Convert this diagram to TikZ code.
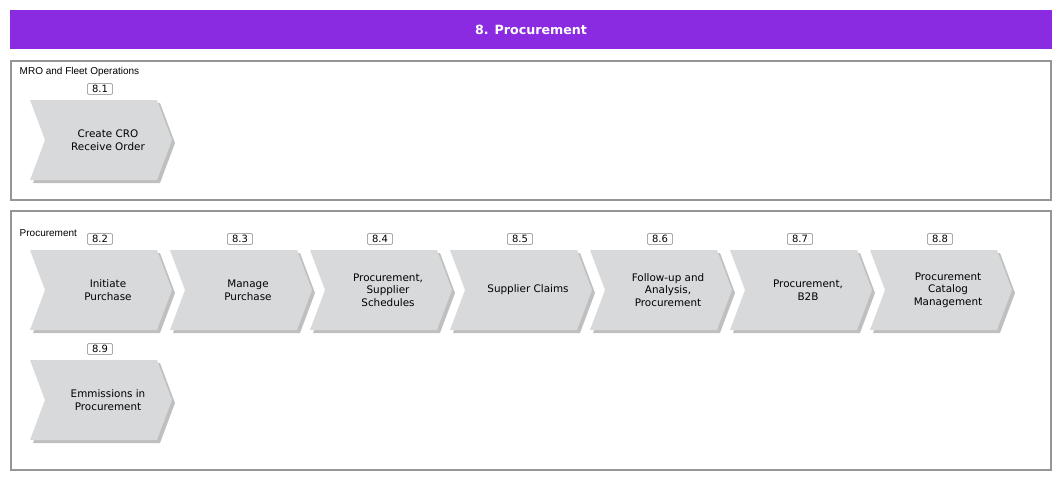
\documentclass[tikz,border=0pt]{standalone}
\usepackage{fontspec}
\setmainfont{DejaVu Sans}
\newfontfamily\arialfont{Liberation Sans}
\usetikzlibrary{positioning}
\definecolor{prpurple}{RGB}{138,43,226}
\definecolor{prgray}{RGB}{216,217,219}
\definecolor{prframe}{RGB}{150,150,150}
\tikzset{
  lane/.style={draw=prframe, line width=1.2pt},
  chev/.style={fill=prgray},
  chevshadow/.style={fill=black!25},
  steptext/.style={align=center, font=\fontsize{7.8}{9.5}\selectfont},
  stepnum/.style={draw=black!50, rounded corners=1pt, fill=white, inner sep=1.2pt, minimum width=19pt, font=\fontsize{7.5}{8}\selectfont},
  lanetitle/.style={anchor=west, font=\arialfont\fontsize{7.5}{8}\selectfont}
}
% chevron at top-left (#1,#2), name #3, number #4, text #5
\newcommand{\prstep}[5]{%
  \fill[chevshadow] (#1+3,#2+3) -- ++(127,0) -- ++(15,40) -- ++(-15,40) -- ++(-127,0) -- ++(15,-40) -- cycle;
  \fill[chev] (#1,#2) -- ++(127,0) -- ++(15,40) -- ++(-15,40) -- ++(-127,0) -- ++(15,-40) -- cycle;
  \node[steptext] (#3) at (#1+78,#2+40) {#5};
  \node[stepnum] (#3n) at (#1+70,#2-11) {#4};
}
\begin{document}
\begin{tikzpicture}[x=0.75pt,y=-0.75pt]
\useasboundingbox (0,0) rectangle (1060,480);
% header
\fill[prpurple] (10,10) rectangle (1052,49);
\node[text=white, font=\bfseries\fontsize{9.5}{11}\selectfont] (title) at (531,30) {8. Procurement};
% lanes
\draw[lane] (11,61) rectangle (1051,200);
\node[lanetitle] (mro) at (15,72) {MRO and Fleet Operations};
\draw[lane] (11,211) rectangle (1051,470);
\node[lanetitle] (proc) at (15,233) {Procurement};
% steps
\prstep{30}{100}{s1}{8.1}{Create CRO\\Receive Order}
\prstep{30}{250}{s2}{8.2}{Initiate\\Purchase}
\prstep{170}{250}{s3}{8.3}{Manage\\Purchase}
\prstep{310}{250}{s4}{8.4}{Procurement,\\Supplier\\Schedules}
\prstep{450}{250}{s5}{8.5}{Supplier Claims}
\prstep{590}{250}{s6}{8.6}{Follow-up and\\Analysis,\\Procurement}
\prstep{730}{250}{s7}{8.7}{Procurement,\\B2B}
\prstep{870}{250}{s8}{8.8}{Procurement\\Catalog\\Management}
\prstep{30}{360}{s9}{8.9}{Emmissions in\\Procurement}
\end{tikzpicture}
\end{document}
